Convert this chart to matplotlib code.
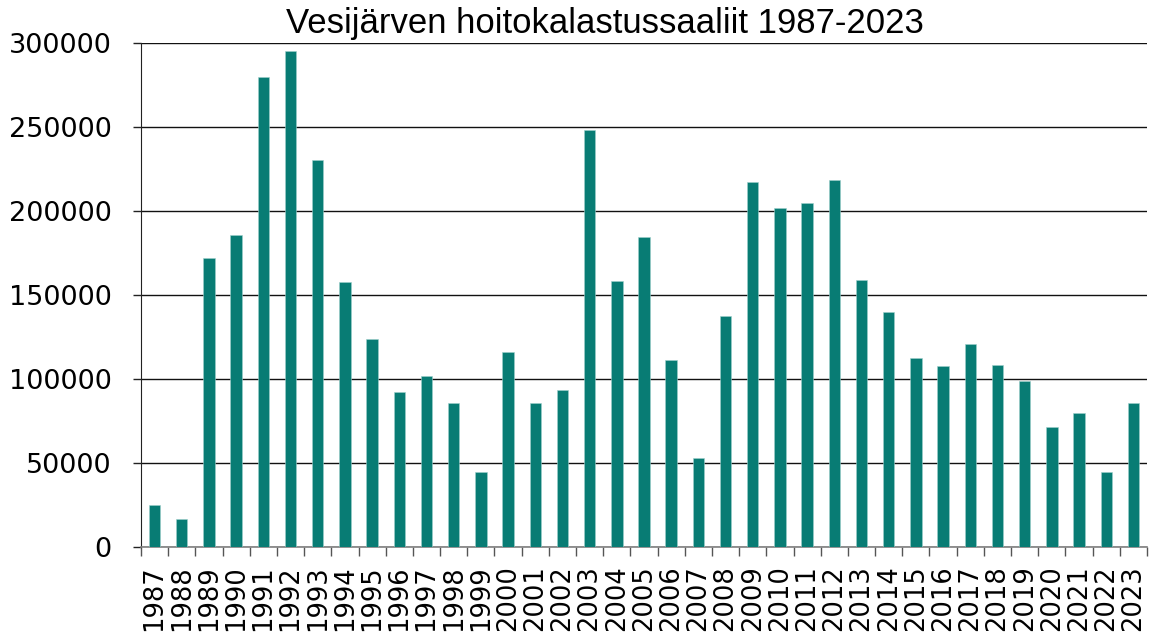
import matplotlib
matplotlib.use("Agg")
import matplotlib.pyplot as plt
import numpy as np
from matplotlib.ticker import FixedLocator

years = [str(y) for y in range(1987, 2024)]
catch = [25000, 16500, 172000, 185500, 280000, 295000, 230400, 157500, 123600,
         92500, 101600, 85500, 44800, 115900, 85500, 93600, 248400, 158500,
         184300, 111100, 53200, 137500, 217100, 201600, 204800, 218300, 158700,
         140100, 112700, 107700, 120600, 108300, 98800, 71200, 79600, 44500, 85900]
yticks = [0, 50000, 100000, 150000, 200000, 250000, 300000]
title = "Vesijärven hoitokalastussaaliit 1987-2023"

plt.rcParams['font.family'] = ['DejaVu Sans']
fig = plt.figure(figsize=(11.55, 6.38), dpi=100)
ax = fig.add_axes([141/1155, 1-547/638, (1147-141)/1155, (547-43)/638])

x = np.arange(len(years))
ax.bar(x, catch, width=0.42, color='#087C74', edgecolor='#9fd0cb', linewidth=0.4, zorder=3)

ax.set_xlim(-0.5, len(years)-0.5)
ax.set_ylim(0, 300000)
ax.set_yticks(yticks)
ax.set_yticklabels([str(v) for v in yticks], fontsize=19.5)
ax.yaxis.grid(True, color='#111111', linewidth=1.0, zorder=0)
ax.tick_params(axis='y', length=6, width=1, color='#222222', pad=15)

ax.set_xticks(x)
ax.set_xticklabels(years, rotation=90, fontsize=18.5)
ax.tick_params(axis='x', which='major', length=0, pad=13)
ax.xaxis.set_minor_locator(FixedLocator(np.arange(-0.5, len(years), 1.0)))
ax.tick_params(axis='x', which='minor', length=6.5, width=1, color='#555555')

for s in ['top', 'right']:
    ax.spines[s].set_visible(False)
ax.spines['left'].set_color('#222222')
ax.spines['bottom'].set_color('#808080')
ax.spines['bottom'].set_linewidth(1.2)

fig.text(605/1155, 1-33/638, title, ha='center', va='baseline', fontsize=25,
         family=['Liberation Sans', 'DejaVu Sans'])

fig.savefig("out.png", dpi=100)
